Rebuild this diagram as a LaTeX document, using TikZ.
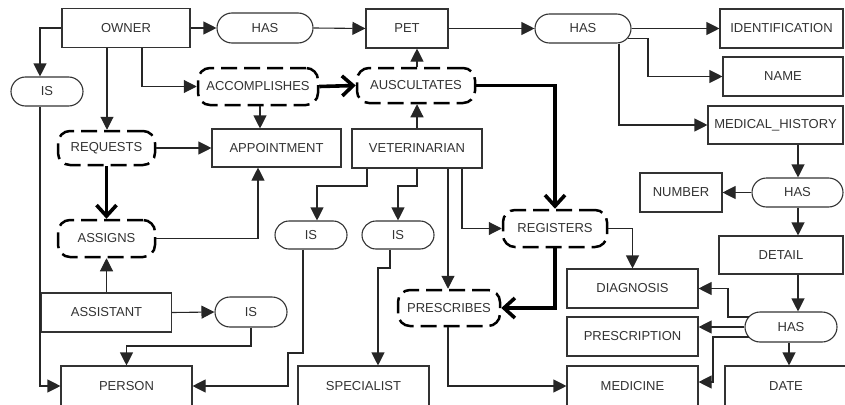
\documentclass[tikz,border=0pt]{standalone}
\usepackage{fontspec}
\setmainfont{Liberation Sans}
\usetikzlibrary{arrows.meta,shapes.misc,calc}
\begin{document}
\begin{tikzpicture}[x=1pt,y=-1pt,
  every node/.style={font=\fontsize{13}{15}\selectfont, text=black!80, inner sep=0pt},
  ent/.style={draw=black!80, line width=1.1pt, fill=white, minimum width=#1, minimum height=39pt},
  rel/.style={draw=black!80, line width=1.1pt, rounded rectangle, fill=white, minimum width=#1, minimum height=29pt},
  wrel/.style={draw=black, line width=2.5pt, dash pattern=on 16pt off 7pt, rounded corners=12pt, minimum width=#1, minimum height=36pt},
  con/.style={draw=black!85, line width=1.1pt, -{Triangle[length=13pt,width=13pt]}},
  tcon/.style={draw=black, line width=3.6pt, -{Straight Barb[length=11pt,width=20pt]}}
]
\useasboundingbox (0,0) rectangle (845,404);
% entities
\node[ent=128pt] (owner) at (126,28) {OWNER};
\node[ent=82pt] (pet) at (407,28.5) {PET};
\node[ent=123pt] (ident) at (781.5,28.5) {IDENTIFICATION};
\node[ent=120pt] (name) at (783,76.5) {NAME};
\node[ent=135pt, minimum height=38pt] (medhist) at (775.5,125) {MEDICAL\_HISTORY};
\node[ent=129pt, minimum height=38pt] (appoint) at (276.5,148) {APPOINTMENT};
\node[ent=130pt] (vet) at (417,148.5) {VETERINARIAN};
\node[ent=82pt] (number) at (681,192.5) {NUMBER};
\node[ent=124pt, minimum height=38pt] (detail) at (781,255) {DETAIL};
\node[ent=131pt] (diagnosis) at (632.5,288.5) {DIAGNOSIS};
\node[ent=131pt] (prescription) at (632.5,336.5) {PRESCRIPTION};
\node[ent=131pt, minimum height=40pt] (medicine) at (632.5,386) {MEDICINE};
\node[ent=122pt, minimum height=40pt] (date) at (786,386) {DATE};
\node[ent=130pt] (assistant) at (106.5,312.5) {ASSISTANT};
\node[ent=131pt, minimum height=40pt] (person) at (126.5,386) {PERSON};
\node[ent=131pt, minimum height=40pt] (specialist) at (363.5,386) {SPECIALIST};
% relations
\node[rel=96pt, minimum height=30pt] (has1) at (265,28) {HAS};
\node[rel=96pt] (has2) at (583,28.5) {HAS};
\node[rel=72pt] (isL) at (47,91.5) {IS};
\node[rel=72pt, minimum height=28pt] (is1) at (311,235) {IS};
\node[rel=72pt, minimum height=28pt] (is2) at (398,235) {IS};
\node[rel=72pt, minimum height=30pt] (is3) at (251,312) {IS};
\node[rel=91pt] (has3) at (797.5,192.5) {HAS};
\node[rel=92pt, minimum height=30pt] (has4) at (791,327) {HAS};
% weak relations
\node[wrel=120pt, minimum height=37pt] (accomp) at (258,86.5) {ACCOMPLISHES};
\node[wrel=118pt, minimum height=35pt] (ausc) at (416,85.5) {AUSCULTATES};
\node[wrel=97pt, minimum height=34pt] (requests) at (106.5,148) {REQUESTS};
\node[wrel=97pt, minimum height=37pt] (assigns) at (106.5,238.5) {ASSIGNS};
\node[wrel=104pt, minimum height=37pt] (registers) at (555,228.5) {REGISTERS};
\node[wrel=102pt] (prescribes) at (449,308) {PRESCRIBES};
% connectors
\draw[con] (owner.east) -- (has1.west);
\draw[con] (has1.east) -- (pet.west);
\draw[con] (pet.east) -- (has2.west);
\draw[con] (has2.east) -- (ident.west);
\draw[con] ($(has2.east)+(-4,10)$) -- (648,38.5) |- (name.west);
\draw[con] (619,0 |- has2.south) |- (medhist.west);
\draw[con] (owner.west) -| (40,0 |- isL.north);
\draw[con] (40,0 |- isL.south) |- (person.west);
\draw[con] (107,0 |- owner.south) -- (107,0 |- requests.north);
\draw[con] (142,0 |- owner.south) |- (accomp.west);
\draw[con] (260,0 |- accomp.south) -- (260,0 |- appoint.north);
\draw[con] (417,0 |- ausc.north) -- (417,0 |- pet.south);
\draw[con] (417,0 |- vet.north) -- (417,0 |- ausc.south);
\draw[con] (requests.east) -- (appoint.west);
\draw[con] (assigns.east) -| (258,0 |- appoint.south);
\draw[con] (assistant.north) -- (assigns.south);
\draw[con] (assistant.east) -- (is3.west);
\draw[con] (is3.south) -- (251,346) -| (person.north);
\draw[con] (367,0 |- vet.south) -- (367,186) -| (317,0 |- is1.north);
\draw[con] (417,0 |- vet.south) -- (417,186) -| (is2.north);
\draw[con] (448,0 |- vet.south) -- (448,0 |- prescribes.north);
\draw[con] (462,0 |- vet.south) |- (registers.west);
\draw[con] (303,0 |- is1.south) -- (303,353) -- (288,353) |- (person.east);
\draw[con] (390,0 |- is2.south) -- (390,268) -- (378,268) -- (378,0 |- specialist.north);
\draw[con] (registers.east) -| (diagnosis.north);
\draw[con] (448,0 |- prescribes.south) |- (medicine.west);
\draw[con] (798,0 |- medhist.south) -- (798,0 |- has3.north);
\draw[con] (has3.west) -- (number.east);
\draw[con] (798,0 |- has3.south) -- (798,0 |- detail.north);
\draw[con] (798,0 |- detail.south) -- (798,0 |- has4.north);
\draw[con] (749,317) -- (728,317) |- (diagnosis.east);
\draw[con] (has4.west) -- (prescription.east |- has4.west);
\draw[con] (749,337) -- (713,337) |- (medicine.east |- 0,382);
\draw[con] (789,0 |- has4.south) -- (789,0 |- date.north);
% thick connectors
\draw[tcon] (accomp.east) -- (ausc.west);
\draw[tcon] (ausc.east) -| (registers.north);
\draw[tcon] (requests.south) -- (assigns.north);
\draw[tcon] (registers.south) |- (prescribes.east);
\end{tikzpicture}
\end{document}
